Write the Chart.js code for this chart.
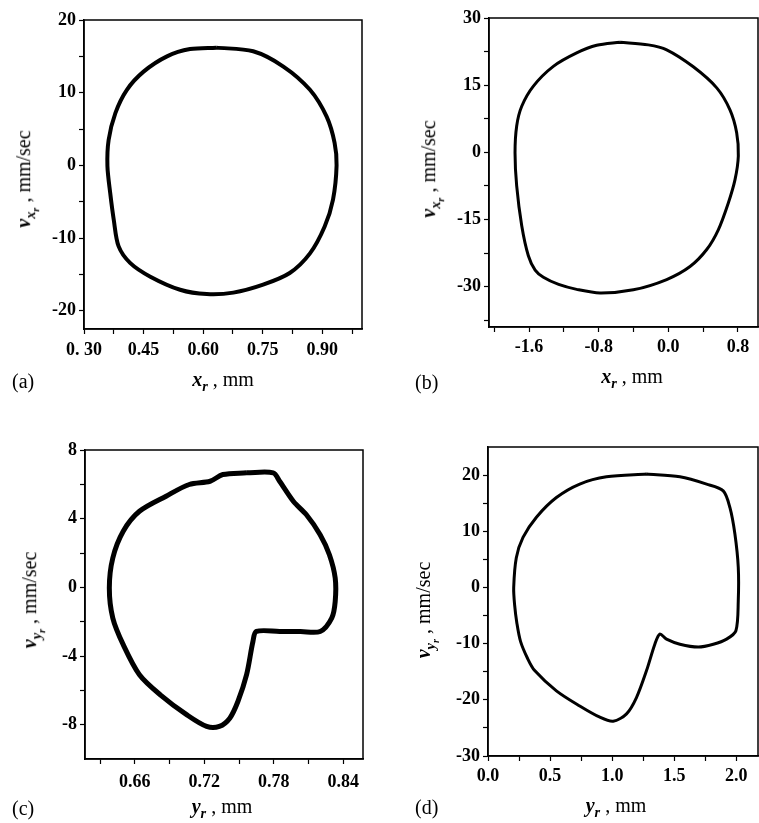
<!DOCTYPE html>
<html lang="en">
<head>
  <meta charset="UTF-8" />
  <title>Phase portraits</title>
  <script src="https://cdn.jsdelivr.net/npm/chart.js"></script>
  <style>
    body { margin: 0; background: #fff; width: 759px; height: 823px; position: relative; overflow: hidden; font-family: "Liberation Serif", "DejaVu Serif", serif; color: #000; }
    canvas { position: absolute; }
    .lbl { position: absolute; font-size: 20px; white-space: nowrap; transform: translate(-50%, -50%); }
    .lbl i { font-weight: 600; }
    .ylbl { transform: translate(-50%, -50%) rotate(-90deg); }
    .tag { position: absolute; font-size: 20px; transform: translateY(-50%); }
    sub { font-size: 72%; vertical-align: -0.35em; line-height: 0; }
  </style>
</head>
<body>
  <canvas id="ca" width="380" height="370" style="left:0;top:0"></canvas>
  <canvas id="cb" width="379" height="370" style="left:380px;top:0"></canvas>
  <canvas id="cc" width="380" height="370" style="left:0;top:430px"></canvas>
  <canvas id="cd" width="379" height="370" style="left:380px;top:426px"></canvas>

  <div class="lbl ylbl" style="left:24px;top:179px"><i>v</i><sub><i>x</i><sub><i>r</i></sub></sub> , mm/sec</div>
  <div class="lbl" style="left:223px;top:379px"><i>x</i><sub><i>r</i></sub> , mm</div>
  <div class="tag" style="left:12px;top:381px">(a)</div>

  <div class="lbl ylbl" style="left:429px;top:169px"><i>v</i><sub><i>x</i><sub><i>r</i></sub></sub> , mm/sec</div>
  <div class="lbl" style="left:632px;top:376px"><i>x</i><sub><i>r</i></sub> , mm</div>
  <div class="tag" style="left:415px;top:382px">(b)</div>

  <div class="lbl ylbl" style="left:30px;top:600px"><i>v</i><sub><i>y</i><sub><i>r</i></sub></sub> , mm/sec</div>
  <div class="lbl" style="left:222px;top:806px"><i>y</i><sub><i>r</i></sub> , mm</div>
  <div class="tag" style="left:12px;top:808px">(c)</div>

  <div class="lbl ylbl" style="left:424px;top:610px"><i>v</i><sub><i>y</i><sub><i>r</i></sub></sub> , mm/sec</div>
  <div class="lbl" style="left:616px;top:805px"><i>y</i><sub><i>r</i></sub> , mm</div>
  <div class="tag" style="left:415px;top:807px">(d)</div>

  <script>
    // (a) x_r [mm] vs v_xr [mm/sec]
    const aX = [0.633, 0.726, 0.802, 0.869, 0.911, 0.931, 0.936, 0.927, 0.906, 0.869, 0.818, 0.751, 0.676, 0.609, 0.542, 0.467, 0.416, 0.387, 0.375, 0.366, 0.359, 0.362, 0.379, 0.408, 0.450, 0.509, 0.567, 0.633];
    const aV = [16.2, 15.7, 13.6, 10.4, 6.7, 3.1, 0, -4.7, -8.4, -12.1, -14.8, -16.4, -17.5, -17.7, -17.1, -15.3, -13.4, -11.1, -7.5, -3.8, -0.1, 3.5, 7.2, 10.4, 12.9, 15.0, 16.0, 16.2];
    const aXTicks = [0.30, 0.375, 0.45, 0.525, 0.60, 0.675, 0.75, 0.825, 0.90, 0.975];
    const aXLabels = ['0. 30', '', '0.45', '', '0.60', '', '0.75', '', '0.90', ''];
    const aYTicks = [-20, -15, -10, -5, 0, 5, 10, 15, 20];
    const aYLabels = ['-20', '', '-10', '', '0', '', '10', '', '20'];

    // (b)
    const bX = [-0.555, -0.230, -0.019, 0.287, 0.556, 0.708, 0.785, 0.804, 0.766, 0.689, 0.574, 0.441, 0.249, -0.019, -0.402, -0.785, -1.053, -1.260, -1.435, -1.530, -1.608, -1.684, -1.742, -1.761, -1.742, -1.684, -1.550, -1.321, -1.053, -0.823, -0.555];
    const bV = [24.6, 24.0, 22.9, 19.1, 14.4, 9.5, 4.4, -0.8, -6.1, -11.3, -17.3, -21.7, -25.5, -28.4, -30.7, -31.4, -30.6, -29.5, -27.9, -26.3, -23.1, -16.4, -7.5, -0.1, 5.9, 10.3, 14.8, 19.2, 22.2, 23.9, 24.6];
    const bXTicks = [-2.0, -1.6, -1.2, -0.8, -0.4, 0.0, 0.4, 0.8];
    const bXLabels = ['', '-1.6', '', '-0.8', '', '0.0', '', '0.8'];
    const bYTicks = [-37.5, -30, -22.5, -15, -7.5, 0, 7.5, 15, 22.5, 30];
    const bYLabels = ['', '-30', '', '-15', '', '0', '', '15', '', '30'];

    // (c) y_r [mm] vs v_yr [mm/sec]
    const cX = [0.7565, 0.7795, 0.785, 0.797, 0.808, 0.820, 0.828, 0.833, 0.833, 0.830, 0.820, 0.803, 0.785, 0.765, 0.762, 0.7565, 0.749, 0.742, 0.733, 0.722, 0.705, 0.682, 0.664, 0.650, 0.641, 0.638, 0.641, 0.650, 0.664, 0.687, 0.707, 0.725, 0.736, 0.7565];
    const cV = [6.67, 6.67, 6.18, 5.0, 4.24, 3.07, 1.9, 0.54, -0.82, -1.79, -2.57, -2.57, -2.57, -2.57, -3.15, -5.09, -6.65, -7.62, -8.1, -8.1, -7.43, -6.26, -5.09, -3.34, -1.79, -0.04, 1.71, 3.27, 4.43, 5.31, 5.99, 6.18, 6.57, 6.67];
    const cXTicks = [0.63, 0.66, 0.69, 0.72, 0.75, 0.78, 0.81, 0.84];
    const cXLabels = ['', '0.66', '', '0.72', '', '0.78', '', '0.84'];
    const cYTicks = [-8, -6, -4, -2, 0, 2, 4, 6, 8];
    const cYLabels = ['-8', '', '-4', '', '0', '', '4', '', '8'];

    // (d)
    const dX = [1.277, 1.546, 1.761, 1.895, 1.949, 1.989, 2.016, 2.016, 1.997, 1.922, 1.815, 1.694, 1.546, 1.438, 1.384, 1.344, 1.277, 1.196, 1.116, 1.008, 0.901, 0.739, 0.551, 0.376, 0.318, 0.262, 0.233, 0.214, 0.207, 0.228, 0.282, 0.390, 0.551, 0.739, 0.954, 1.277];
    const dV = [20.2, 19.7, 18.4, 17.2, 14.2, 9.5, 3.6, -2.4, -7.7, -9.2, -10.1, -10.6, -10.1, -9.2, -8.3, -10.1, -14.8, -19.6, -22.5, -23.8, -23.1, -21.1, -18.4, -14.8, -12.6, -9.6, -6.4, -3.0, 0, 5.3, 8.9, 12.5, 16.0, 18.4, 19.7, 20.2];
    const dXTicks = [0, 0.25, 0.5, 0.75, 1.0, 1.25, 1.5, 1.75, 2.0];
    const dXLabels = ['0.0', '', '0.5', '', '1.0', '', '1.5', '', '2.0'];
    const dYTicks = [-30, -25, -20, -15, -10, -5, 0, 5, 10, 15, 20];
    const dYLabels = ['-30', '', '-20', '', '-10', '', '0', '', '10', '', '20'];

    // box round the plot area
    const frame = {
      id: 'frame',
      afterDraw(chart) {
        const { ctx, chartArea: a } = chart;
        ctx.save();
        ctx.strokeStyle = '#000';
        ctx.lineWidth = 1.5;
        ctx.strokeRect(a.left, a.top, a.right - a.left, a.bottom - a.top);
        ctx.restore();
      }
    };

    const tickFont = { family: '"Liberation Serif", serif', size: 18, weight: 'bold' };

    function axis(min, max, ticks, labels, fit, pad) {
      return {
        type: 'linear',
        min, max,
        afterBuildTicks: s => { s.ticks = ticks.map(v => ({ value: v })); },
        afterFit: fit,
        grid: { drawOnChartArea: false, drawTicks: true, tickLength: 5, color: '#000', tickWidth: 1.2 },
        border: { display: true, color: '#000', width: 1.5 },
        ticks: { color: '#000', font: tickFont, autoSkip: false, maxRotation: 0, padding: pad,
                 callback: (v, i) => labels[i] }
      };
    }

    function panel(id, xs, vs, o) {
      new Chart(document.getElementById(id), {
        type: 'scatter',
        data: {
          datasets: [{
            data: xs.map((x, i) => ({ x, y: vs[i] })),
            showLine: true,
            borderColor: '#000',
            borderWidth: o.lw,
            tension: 0.3,
            pointRadius: 0
          }]
        },
        options: {
          responsive: false,
          animation: false,
          layout: { padding: o.pad },
          plugins: { legend: { display: false }, tooltip: { enabled: false } },
          scales: {
            x: axis(o.x[0], o.x[1], o.xt, o.xl, s => { s.height = o.xh; }, o.xp),
            y: axis(o.y[0], o.y[1], o.yt, o.yl, s => { s.width = o.yw; }, 3)
          }
        },
        plugins: [frame]
      });
    }

    panel('ca', aX, aV, { lw: 4, x: [0.30, 1.00], y: [-22.5, 20], xt: aXTicks, xl: aXLabels, yt: aYTicks, yl: aYLabels,
      pad: { top: 20, right: 18, left: 0, bottom: 0 }, xh: 41, yw: 84, xp: 6 });
    panel('cb', bX, bV, { lw: 3, x: [-2.06, 1.03], y: [-39, 30], xt: bXTicks, xl: bXLabels, yt: bYTicks, yl: bYLabels,
      pad: { top: 18, right: 1, left: 0, bottom: 0 }, xh: 43, yw: 109, xp: 5 });
    panel('cc', cX, cV, { lw: 5, x: [0.617, 0.857], y: [-10, 8], xt: cXTicks, xl: cXLabels, yt: cYTicks, yl: cYLabels,
      pad: { top: 20, right: 17, left: 0, bottom: 0 }, xh: 41, yw: 85, xp: 8 });
    panel('cd', dX, dV, { lw: 3, x: [0, 2.175], y: [-30, 25], xt: dXTicks, xl: dXLabels, yt: dYTicks, yl: dYLabels,
      pad: { top: 21, right: 1, left: 0, bottom: 0 }, xh: 40, yw: 108, xp: 5 });
  </script>
</body>
</html>
